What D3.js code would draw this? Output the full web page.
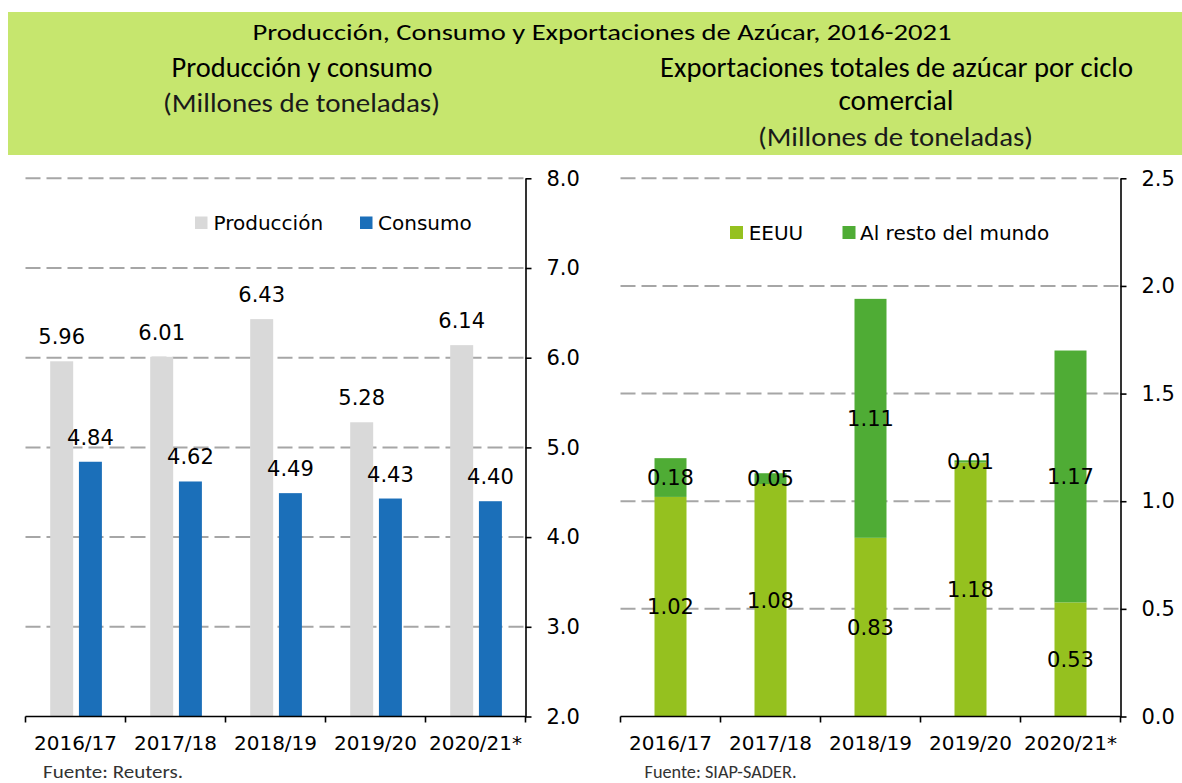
<!DOCTYPE html>
<html><head><meta charset="utf-8">
<script src="https://cdn.jsdelivr.net/npm/d3@7"></script>
<style>body{margin:0;background:#fff} svg{display:block}</style>
</head><body>
<svg id="c" width="1182" height="783"></svg>
<script>
// ---- data ----
const categories = ["2016/17","2017/18","2018/19","2019/20","2020/21*"];
const produccion = [5.96,6.01,6.43,5.28,6.14];
const consumo = [4.84,4.62,4.49,4.43,4.40];
const eeuu = [1.02,1.08,0.83,1.18,0.53];
const restoMundo = [0.18,0.05,1.11,0.01,1.17];
const leftTicks = [2,3,4,5,6,7,8];
const rightTicks = [0,0.5,1,1.5,2,2.5];
const leftSeries = ["Producción","Consumo"];
const rightSeries = ["EEUU","Al resto del mundo"];

const C = {prod:"#D9D9D9", cons:"#1B6FB9", eeuu:"#95C11F", resto:"#4FAC35", head:"#C6E66E", grid:"#A6A6A6"};
const NUM = "'DejaVu Sans', Verdana, sans-serif";
const HEAD = "Carlito, Calibri, 'Open Sans', sans-serif";

const svg = d3.select("#c");

// ---- header ----
svg.append("rect").attr("x",8).attr("y",12).attr("width",1174).attr("height",143).attr("fill",C.head);
function htext(t, x, y, size, len, fill){
  svg.append("text").attr("x",x).attr("y",y).attr("text-anchor","middle")
    .attr("font-family",HEAD).attr("font-size",size)
    .attr("fill",fill||"#000").attr("textLength",len).attr("lengthAdjust","spacingAndGlyphs").text(t);
}
htext("Producción, Consumo y Exportaciones de Azúcar, 2016-2021", 602, 40, 23, 699);
htext("Producción y consumo", 302, 77, 28, 261);
htext("(Millones de toneladas)", 301.5, 112, 26, 277, "#1a1a1a");
htext("Exportaciones totales de azúcar por ciclo", 896.5, 77, 28, 473);
htext("comercial", 896, 110, 28, 115);
htext("(Millones de toneladas)", 895.5, 146, 26, 275, "#1a1a1a");

// ---- common helpers ----
const yBase = 716.5, yTop = 178.3;
function grid(y, ticks, x0, x1){
  svg.append("g").selectAll("line").data(ticks.slice(1)).join("line")
    .attr("x1",x0).attr("x2",x1).attr("y1",d=>y(d)).attr("y2",d=>y(d))
    .attr("stroke",C.grid).attr("stroke-width",2).attr("stroke-dasharray","15,6");
}
function drawAxes(y, ticks, xCat, fmt){
  const x0 = xCat.range()[0], x1 = xCat.range()[1];
  const ax = svg.append("g").attr("transform",`translate(${x1},0)`)
    .call(d3.axisRight(y).tickValues(ticks).tickSize(6).tickSizeOuter(0).tickPadding(15).tickFormat(fmt));
  ax.select(".domain").attr("stroke","#000").attr("stroke-width",1.6);
  ax.selectAll(".tick line").attr("stroke","#000").attr("stroke-width",1.6);
  ax.selectAll(".tick text").attr("font-family",NUM).attr("font-size",21).attr("fill","#000");
  const bounds = categories.map(c=>xCat(c)).concat([x1]);
  svg.append("line").attr("x1",x0).attr("x2",x1).attr("y1",yBase).attr("y2",yBase)
    .attr("stroke","#000").attr("stroke-width",1.6);
  svg.append("g").selectAll("line").data(bounds).join("line")
    .attr("x1",d=>d).attr("x2",d=>d).attr("y1",yBase).attr("y2",yBase+6)
    .attr("stroke","#000").attr("stroke-width",1.6);
  svg.append("g").selectAll("text").data(categories).join("text")
    .attr("x",d=>xCat(d)+xCat.bandwidth()/2).attr("y",750).attr("text-anchor","middle")
    .attr("font-family",NUM).attr("font-size",20).attr("fill","#000").text(d=>d);
}

// ---- left chart ----
const xL = d3.scaleBand().domain(categories).range([25.5,525.5]).padding(0);
const xLi = d3.scaleBand().domain(leftSeries).range([24.7,76.4]).paddingInner(0.2);
const yL = d3.scaleLinear().domain([2,8]).range([yBase,yTop]);
grid(yL, leftTicks, 25.5, 525.5);
const leftData = categories.map((c,i)=>({c, vals:[produccion[i],consumo[i]]}));
const lg = svg.append("g");
leftData.forEach(d=>{
  leftSeries.forEach((s,j)=>{
    const v = d.vals[j];
    const bx = xL(d.c)+xLi(s);
    lg.append("rect").attr("x",bx).attr("width",xLi.bandwidth())
      .attr("y",yL(v)).attr("height",yL(2)-yL(v)).attr("fill",j===0?C.prod:C.cons);
    lg.append("text").attr("x",bx+xLi.bandwidth()/2).attr("y",yL(v)-17).attr("text-anchor","middle")
      .attr("font-family",NUM).attr("font-size",21).attr("fill","#000").text(v.toFixed(2));
  });
});
drawAxes(yL, leftTicks, xL, d3.format(".1f"));
[[195,213.5,C.prod,leftSeries[0]],[360,378,C.cons,leftSeries[1]]].forEach(([sx,tx,col,t])=>{
  svg.append("rect").attr("x",sx).attr("y",216.5).attr("width",12.5).attr("height",12.5).attr("fill",col);
  svg.append("text").attr("x",tx).attr("y",230).attr("font-family",NUM).attr("font-size",20).attr("fill","#000").text(t);
});

// ---- right chart ----
const xR = d3.scaleBand().domain(categories).range([620.5,1120.5]).padding(0);
const xRb = d3.scaleBand().domain(categories).range([620.5,1120.5]).paddingInner(0.68).paddingOuter(0.34);
const yR = d3.scaleLinear().domain([0,2.5]).range([yBase,yTop]);
grid(yR, rightTicks, 620.5, 1120.5);
const stack = d3.stack().keys([0,1]).value((d,k)=>d.vals[k]);
const rightData = categories.map((c,i)=>({c, vals:[eeuu[i],restoMundo[i]]}));
const layers = stack(rightData);
const rg = svg.append("g");
layers.forEach((layer,k)=>{
  layer.forEach((seg,i)=>{
    rg.append("rect").attr("x",xRb(rightData[i].c)).attr("width",xRb.bandwidth())
      .attr("y",yR(seg[1])).attr("height",yR(seg[0])-yR(seg[1])).attr("fill",k===0?C.eeuu:C.resto);
  });
});
layers.forEach((layer,k)=>{
  layer.forEach((seg,i)=>{
    rg.append("text").attr("x",xRb(rightData[i].c)+xRb.bandwidth()/2).attr("y",yR((seg[0]+seg[1])/2)+7.5)
      .attr("text-anchor","middle").attr("font-family",NUM).attr("font-size",21).attr("fill","#000")
      .text(rightData[i].vals[k].toFixed(2));
  });
});
drawAxes(yR, rightTicks, xR, d3.format(".1f"));
[[730,748.7,C.eeuu,rightSeries[0]],[842.5,860,C.resto,rightSeries[1]]].forEach(([sx,tx,col,t])=>{
  svg.append("rect").attr("x",sx).attr("y",226).attr("width",13).attr("height",13).attr("fill",col);
  svg.append("text").attr("x",tx).attr("y",240).attr("font-family",NUM).attr("font-size",20).attr("fill","#000").text(t);
});

// ---- footers ----
svg.append("text").attr("x",43).attr("y",778).attr("font-family",HEAD).attr("font-size",19)
  .attr("fill","#333").attr("textLength",140).attr("lengthAdjust","spacingAndGlyphs").text("Fuente: Reuters.");
svg.append("text").attr("x",644.5).attr("y",778).attr("font-family",HEAD).attr("font-size",19)
  .attr("fill","#333").attr("textLength",152).attr("lengthAdjust","spacingAndGlyphs").text("Fuente: SIAP-SADER.");
</script>
</body></html>
